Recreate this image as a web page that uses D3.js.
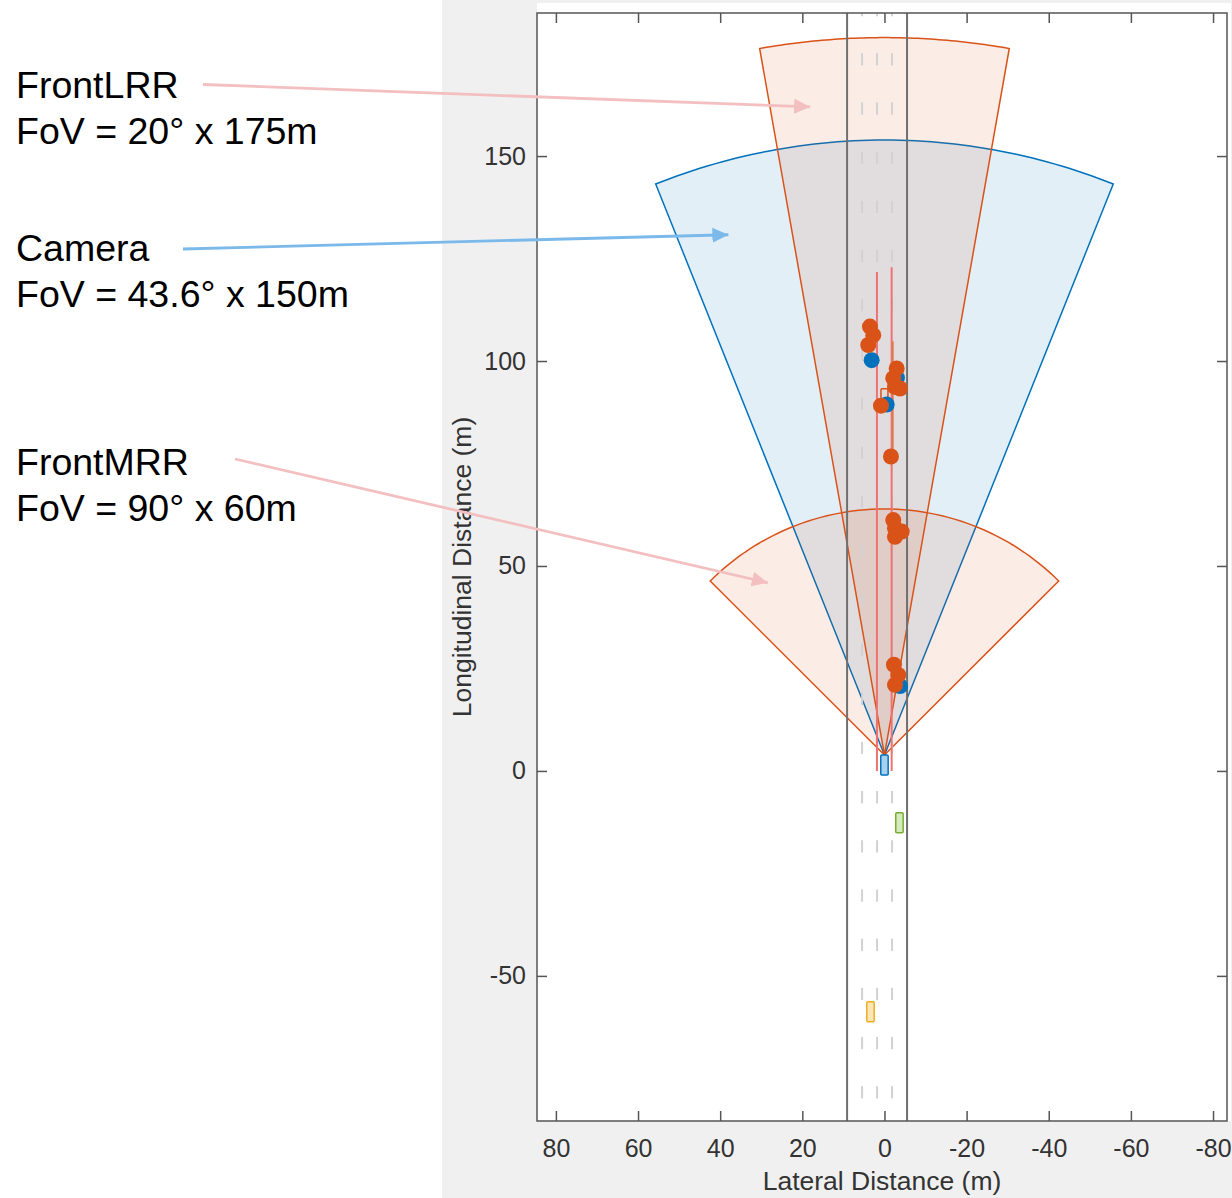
<!DOCTYPE html>
<html><head><meta charset="utf-8">
<script src="https://cdn.jsdelivr.net/npm/d3@7"></script>
<style>
html,body{margin:0;padding:0;background:#fff;}
svg{display:block;font-family:"Liberation Sans",Arial,Helvetica,sans-serif;}
</style></head><body>
<svg id="chart" width="1232" height="1198"></svg>
<script>
// ---------- data ----------
const xTicks = [80, 60, 40, 20, 0, -20, -40, -60, -80];
const yTicks = [-50, 0, 50, 100, 150];
const xLimits = [84.6, -83.4];
const yLimits = [-85.4, 184.9];

const sensorNames = ["Camera", "FrontLRR", "FrontMRR"];
const sensorKind = ["camera", "radar", "radar"];
const sensorFov = [43.6, 20, 90];
const sensorRange = [150, 175, 60];
const sensorOriginLon = 3.9;

const annoTitle = ["FrontLRR", "Camera", "FrontMRR"];
const annoSub = ["FoV = 20° x 175m", "FoV = 43.6° x 150m", "FoV = 90° x 60m"];
const annoTipLat = [18.1, 38.0, 28.4];
const annoTipLon = [162.0, 130.8, 45.9];
const annoKind = ["radar", "camera", "radar"];

const roadEdges = [9.1, -5.5];
const laneDividers = [5.45, 1.8, -1.85];
const dashFirstStart = -79.9, dashLength = 3, dashPeriod = 12;

const laneDetLat = [1.83, -1.75];
const laneDetTop = [121.7, 122.9];

const trackLat = [-2.05, 0.35];
const trackTop = [104.8, 91.0];
const trackBottom = [76.7, 87.6];

const radarDetLat = [3.53, 2.73, 3.95, -2.97, -2.14, -3.77, -2.56, 0.85, -1.58, -2.14, -2.56, -4.19, -2.56, -2.31, -3.36, -2.56];
const radarDetLon = [108.4, 106.3, 103.9, 98.2, 95.8, 93.3, 93.7, 89.1, 76.7, 61.2, 59.2, 58.4, 57.1, 25.9, 23.4, 21.0];
const cameraDetLat = [3.12, -3.04, -0.54, -3.8];
const cameraDetLon = [100.2, 95.9, 89.4, 20.7];

const vehicleNames = ["ego", "car2", "car3", "target"];
const vehicleLat = [0, -3.65, 3.4, 0];
const vehicleLon = [1.45, -12.65, -58.75, 91.8];
const vehicleLen = [4.9, 4.9, 4.9, 2.9];
const vehicleWid = [1.8, 1.8, 1.8, 1.7];
const vehicleFill = ["#a9d1ee", "#d6eac0", "#fbe5b9", "none"];
const vehicleStroke = ["#0072bd", "#77ac30", "#edb120", "#d95319"];

// ---------- layout ----------
const svg = d3.select("#chart");
const plot = {left: 537, right: 1227, top: 13, bottom: 1121};
const x = d3.scaleLinear().domain(xLimits).range([plot.left, plot.right]);
const y = d3.scaleLinear().domain(yLimits).range([plot.bottom, plot.top]);

const colRadar = "#d95319", colCamera = "#0072bd";
const fillRadar = "rgba(217,83,25,0.11)", fillCamera = "rgba(0,114,189,0.115)";

svg.append("rect").attr("x", 442).attr("y", 0).attr("width", 790).attr("height", 1198).attr("fill", "#f0f0f0");
svg.append("rect").attr("x", plot.left).attr("y", 3).attr("width", 1231 - plot.left).attr("height", plot.bottom - 3).attr("fill", "#fff");

const defs = svg.append("defs");
defs.append("clipPath").attr("id", "clip").append("rect")
  .attr("x", plot.left).attr("y", plot.top).attr("width", plot.right - plot.left).attr("height", plot.bottom - plot.top);

const g = svg.append("g").attr("clip-path", "url(#clip)");

// ---------- coverage fans ----------
const line = d3.line().x(d => x(d[0])).y(d => y(d[1]));
sensorNames.forEach((name, i) => {
  const half = sensorFov[i] / 2 * Math.PI / 180;
  const r = sensorRange[i];
  const angles = d3.range(0, 61).map(k => -half + 2 * half * k / 60);
  const pts = [[0, sensorOriginLon]].concat(angles.map(a => [r * Math.sin(a), sensorOriginLon + r * Math.cos(a)]));
  pts.push([0, sensorOriginLon]);
  const cam = sensorKind[i] === "camera";
  g.append("path").attr("d", line(pts))
    .attr("fill", cam ? fillCamera : fillRadar)
    .attr("stroke", cam ? colCamera : colRadar)
    .attr("stroke-width", 1.5).attr("stroke-linejoin", "miter");
});

// ---------- road ----------
const dashStarts = d3.range(dashFirstStart, yLimits[1] + dashPeriod, dashPeriod);
laneDividers.forEach(lat => {
  g.selectAll(null).data(dashStarts).enter().append("line")
    .attr("x1", x(lat)).attr("x2", x(lat))
    .attr("y1", d => y(d)).attr("y2", d => y(d + dashLength))
    .attr("stroke", "#d2d2d2").attr("stroke-width", 2);
});
roadEdges.forEach(lat => {
  g.append("line").attr("x1", x(lat)).attr("x2", x(lat))
    .attr("y1", plot.top).attr("y2", plot.bottom)
    .attr("stroke", "#6f6f6f").attr("stroke-width", 2);
});

laneDetLat.forEach((lat, i) => {
  g.append("line").attr("x1", x(lat)).attr("x2", x(lat))
    .attr("y1", y(0)).attr("y2", y(laneDetTop[i]))
    .attr("stroke", "#ef7272").attr("stroke-width", 2);
});
trackLat.forEach((lat, i) => {
  g.append("line").attr("x1", x(lat)).attr("x2", x(lat))
    .attr("y1", y(trackBottom[i])).attr("y2", y(trackTop[i]))
    .attr("stroke", "#e0733f").attr("stroke-width", 1.5);
});

vehicleNames.forEach((n, i) => {
  const x0 = x(vehicleLat[i] + vehicleWid[i] / 2), x1 = x(vehicleLat[i] - vehicleWid[i] / 2);
  const y0 = y(vehicleLon[i] + vehicleLen[i] / 2), y1 = y(vehicleLon[i] - vehicleLen[i] / 2);
  g.append("rect").attr("x", x0).attr("y", y0).attr("width", x1 - x0).attr("height", y1 - y0)
    .attr("rx", 1).attr("fill", vehicleFill[i]).attr("stroke", vehicleStroke[i]).attr("stroke-width", 1.5);
});

g.selectAll(null).data(d3.range(cameraDetLat.length)).enter().append("circle")
  .attr("cx", i => x(cameraDetLat[i])).attr("cy", i => y(cameraDetLon[i])).attr("r", 8)
  .attr("fill", colCamera);
g.selectAll(null).data(d3.range(radarDetLat.length)).enter().append("circle")
  .attr("cx", i => x(radarDetLat[i])).attr("cy", i => y(radarDetLon[i])).attr("r", 8)
  .attr("fill", colRadar);

// ---------- axes ----------
const tickLen = 10;
svg.append("rect").attr("x", plot.left).attr("y", plot.top)
  .attr("width", plot.right - plot.left).attr("height", plot.bottom - plot.top)
  .attr("fill", "none").attr("stroke", "#555").attr("stroke-width", 1.5);

const fmt = d => String(d);
const xAxisB = d3.axisBottom(x).tickValues(xTicks).tickSizeInner(-tickLen).tickSizeOuter(0).tickPadding(18).tickFormat(fmt);
const xAxisT = d3.axisTop(x).tickValues(xTicks).tickSizeInner(-tickLen).tickSizeOuter(0).tickFormat("");
const yAxisL = d3.axisLeft(y).tickValues(yTicks).tickSizeInner(-tickLen).tickSizeOuter(0).tickPadding(11).tickFormat(fmt);
const yAxisR = d3.axisRight(y).tickValues(yTicks).tickSizeInner(-tickLen).tickSizeOuter(0).tickFormat("");

function styleAxis(sel) {
  sel.select(".domain").remove();
  sel.selectAll(".tick line").attr("stroke", "#555").attr("stroke-width", 1.5);
  sel.selectAll(".tick text").attr("fill", "#333").attr("font-size", 25)
     .attr("font-family", "'Liberation Sans', Arial, sans-serif");
}
svg.append("g").attr("transform", `translate(0,${plot.bottom})`).call(xAxisB).call(styleAxis);
svg.append("g").attr("transform", `translate(0,${plot.top})`).call(xAxisT).call(styleAxis);
svg.append("g").attr("transform", `translate(${plot.left},0)`).call(yAxisL).call(styleAxis);
svg.append("g").attr("transform", `translate(${plot.right},0)`).call(yAxisR).call(styleAxis);

svg.append("text").attr("x", (plot.left + plot.right) / 2).attr("y", 1190)
  .attr("text-anchor", "middle").attr("font-size", 26.5).attr("fill", "#333")
  .text("Lateral Distance (m)");
svg.append("text").attr("transform", `translate(471,${(plot.top + plot.bottom) / 2}) rotate(-90)`)
  .attr("text-anchor", "middle").attr("font-size", 26.5).attr("fill", "#333")
  .text("Longitudinal Distance (m)");

// ---------- annotations ----------
const annoColor = {radar: "#f3bfc0", camera: "#7ab9ea"};
["radar", "camera"].forEach(k => {
  defs.append("marker").attr("id", "arrow-" + k)
    .attr("viewBox", "0 0 16 16").attr("refX", 16).attr("refY", 8)
    .attr("markerWidth", 16).attr("markerHeight", 16).attr("markerUnits", "userSpaceOnUse")
    .attr("orient", "auto")
    .append("path").attr("d", "M0,0.5 L16,8 L0,15.5 Z").attr("fill", annoColor[k]);
});
const annoTextX = 16;
const annoTitleY = [98, 261, 475];
const annoLineStart = [[203, 84.5], [183, 249], [235, 459]];
annoTitle.forEach((t, i) => {
  svg.append("text").attr("x", annoTextX).attr("y", annoTitleY[i]).attr("font-size", 37.5).attr("fill", "#000").text(t);
  svg.append("text").attr("x", annoTextX).attr("y", annoTitleY[i] + 46).attr("font-size", 37.5).attr("fill", "#000").text(annoSub[i]);
  svg.append("line")
    .attr("x1", annoLineStart[i][0]).attr("y1", annoLineStart[i][1])
    .attr("x2", x(annoTipLat[i])).attr("y2", y(annoTipLon[i]))
    .attr("stroke", annoColor[annoKind[i]]).attr("stroke-width", 2.8)
    .attr("marker-end", `url(#arrow-${annoKind[i]})`);
});
</script>
</body></html>
